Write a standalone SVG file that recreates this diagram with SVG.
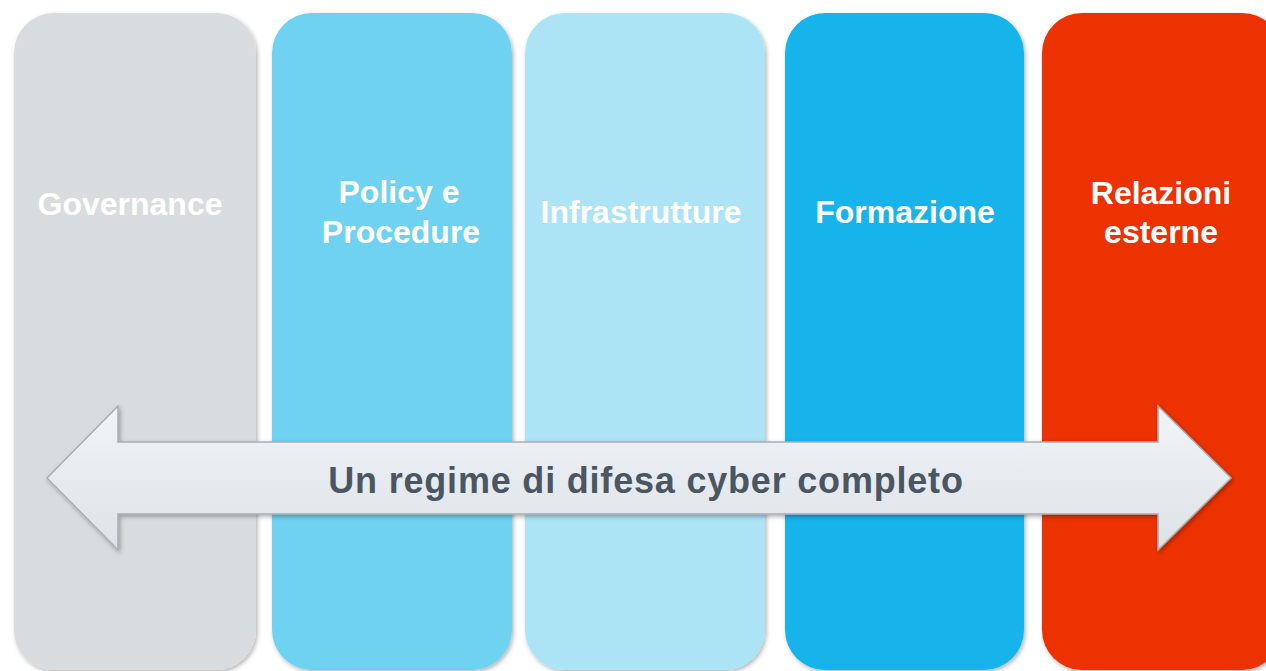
<svg xmlns="http://www.w3.org/2000/svg" width="1266" height="671" viewBox="0 0 1266 671">
  <defs>
    <filter id="sh" x="-10%" y="-10%" width="130%" height="130%">
      <feDropShadow dx="1.5" dy="2" stdDeviation="2" flood-color="#000" flood-opacity="0.3"/>
    </filter>
    <linearGradient id="ag" x1="0" y1="0" x2="0" y2="1">
      <stop offset="0" stop-color="#F1F4F7"/>
      <stop offset="1" stop-color="#DDE2E7"/>
    </linearGradient>
    <style>
      .lbl { font-family: "Liberation Sans", Arial, sans-serif; font-weight: bold; font-size: 32px; fill: #FFFFFF; text-anchor: middle; }
      .main { font-family: "Liberation Sans", Arial, sans-serif; font-weight: bold; font-size: 36px; letter-spacing: 0.8px; fill: #4A5662; text-anchor: middle; }
    </style>
  </defs>
  <rect width="1266" height="671" fill="#FFFFFF"/>
  <g id="governance">
    <rect x="14" y="13" width="242" height="657" rx="40" fill="#D9DCDF" filter="url(#sh)"/>
    <text class="lbl" x="130" y="215">Governance</text>
  </g>
  <g id="policy">
    <rect x="272" y="13" width="240" height="657" rx="40" fill="#6FD2F1" filter="url(#sh)"/>
    <text class="lbl" x="399" y="203">Policy e</text>
    <text class="lbl" x="401" y="243">Procedure</text>
  </g>
  <g id="infrastrutture">
    <rect x="525" y="13" width="240" height="657" rx="40" fill="#ACE4F6" filter="url(#sh)"/>
    <text class="lbl" x="641" y="223">Infrastrutture</text>
  </g>
  <g id="formazione">
    <rect x="785" y="13" width="239" height="657" rx="40" fill="#16B4EA" filter="url(#sh)"/>
    <text class="lbl" x="905" y="223">Formazione</text>
  </g>
  <g id="relazioni">
    <rect x="1042" y="13" width="240" height="657" rx="40" fill="#EC3100" filter="url(#sh)"/>
    <text class="lbl" x="1161" y="204">Relazioni</text>
    <text class="lbl" x="1161" y="243">esterne</text>
  </g>
  <g id="connectors">
    <path d="M47,478 L118,406 L118,442 L1158,442 L1158,406 L1231,478 L1158,550 L1158,514 L118,514 L118,550 Z" fill="url(#ag)" stroke="#A8ADB2" stroke-width="1.5" stroke-linejoin="miter" filter="url(#sh)"/>
    <text class="main" x="646" y="493">Un regime di difesa cyber completo</text>
  </g>
</svg>
